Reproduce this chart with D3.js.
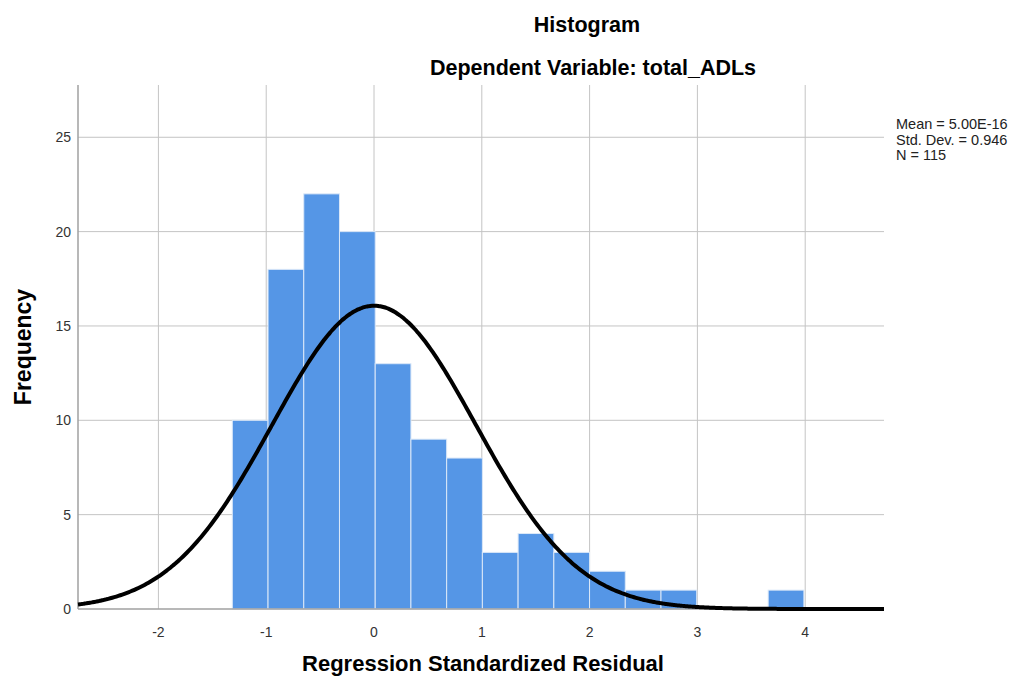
<!DOCTYPE html>
<html>
<head>
<meta charset="utf-8">
<script src="https://cdn.jsdelivr.net/npm/d3@7"></script>
<style>
  body { margin: 0; background: #fff; }
  svg { display: block; font-family: "Liberation Sans", Arial, sans-serif; }
</style>
</head>
<body>
<svg id="chart" width="1014" height="678"></svg>
<script>
// ---- data ----
const binStart = -1.3145;
const binWidth = 0.3314;
const counts = [10, 18, 22, 20, 13, 9, 8, 3, 4, 3, 2, 1, 1, 0, 0, 1];
const xTicks = [-2, -1, 0, 1, 2, 3, 4];
const yTicks = [0, 5, 10, 15, 20, 25];
const statMean = 5.00e-16;
const statSD = 0.946;
const statN = 115;
const legendLines = ["Mean = 5.00E-16", "Std. Dev. = 0.946", "N = 115"];
const titleText = "Histogram";
const subtitleText = "Dependent Variable: total_ADLs";
const xTitle = "Regression Standardized Residual";
const yTitle = "Frequency";

// ---- layout ----
const pLeft = 78, pRight = 884, pTop = 85, pBottom = 609;
const svg = d3.select("#chart");

const x = d3.scaleLinear().domain([-2.746, 4.731]).range([pLeft, pRight]);
const y = d3.scaleLinear().domain([0, 27.77]).range([pBottom, pTop]);

// gridlines
svg.append("g").selectAll("line").data(yTicks.filter(d => d > 0)).join("line")
  .attr("x1", pLeft).attr("x2", pRight)
  .attr("y1", d => y(d)).attr("y2", d => y(d))
  .attr("stroke", "#c4c4c4").attr("stroke-width", 1);
svg.append("g").selectAll("line").data(xTicks).join("line")
  .attr("x1", d => x(d)).attr("x2", d => x(d))
  .attr("y1", pTop).attr("y2", pBottom)
  .attr("stroke", "#c4c4c4").attr("stroke-width", 1);

// bars
const bins = counts.map((c, i) => ({x0: binStart + i * binWidth, x1: binStart + (i + 1) * binWidth, c}));
svg.append("g").selectAll("rect").data(bins.filter(b => b.c > 0)).join("rect")
  .attr("x", d => x(d.x0))
  .attr("y", d => y(d.c))
  .attr("width", d => x(d.x1) - x(d.x0))
  .attr("height", d => y(0) - y(d.c))
  .attr("fill", "#5596e6")
  .attr("stroke", "#dbe8f8").attr("stroke-width", 1);

// axes lines
svg.append("line").attr("x1", pLeft).attr("x2", pLeft).attr("y1", pTop).attr("y2", pBottom)
  .attr("stroke", "#a0a0a0").attr("stroke-width", 1.5);
svg.append("line").attr("x1", pLeft).attr("x2", pRight).attr("y1", pBottom).attr("y2", pBottom)
  .attr("stroke", "#a0a0a0").attr("stroke-width", 1.5);

// normal curve from the fitted statistics
const scaleFactor = statN * binWidth / (statSD * Math.sqrt(2 * Math.PI));
const curvePts = d3.range(0, 401).map(i => {
  const xv = x.domain()[0] + (x.domain()[1] - x.domain()[0]) * i / 400;
  const z = (xv - statMean) / statSD;
  return [xv, scaleFactor * Math.exp(-0.5 * z * z)];
});
svg.append("path").datum(curvePts)
  .attr("d", d3.line().x(d => x(d[0])).y(d => y(d[1])).curve(d3.curveBasis))
  .attr("fill", "none").attr("stroke", "#000").attr("stroke-width", 4);

// tick labels
svg.append("g").selectAll("text").data(yTicks).join("text")
  .attr("x", 71).attr("y", d => y(d)).attr("dy", "0.35em")
  .attr("text-anchor", "end").attr("font-size", 14).attr("fill", "#333")
  .text(d => d);
svg.append("g").selectAll("text").data(xTicks).join("text")
  .attr("x", d => x(d)).attr("y", 632).attr("dy", "0.35em")
  .attr("text-anchor", "middle").attr("font-size", 14).attr("fill", "#333")
  .text(d => d);

// titles
svg.append("text").attr("x", 587).attr("y", 24).attr("dy", "0.35em")
  .attr("text-anchor", "middle").attr("font-size", 21.5).attr("font-weight", "bold")
  .text(titleText);
svg.append("text").attr("x", 593).attr("y", 67).attr("dy", "0.35em")
  .attr("text-anchor", "middle").attr("font-size", 21.5).attr("font-weight", "bold")
  .text(subtitleText);
svg.append("text").attr("x", 483).attr("y", 663).attr("dy", "0.35em")
  .attr("text-anchor", "middle").attr("font-size", 22).attr("font-weight", "bold")
  .text(xTitle);
svg.append("text").attr("transform", "translate(23,347) rotate(-90)").attr("dy", "0.35em")
  .attr("text-anchor", "middle").attr("font-size", 23).attr("font-weight", "bold")
  .text(yTitle);

// stats legend
svg.append("g").selectAll("text").data(legendLines).join("text")
  .attr("x", 896).attr("y", (d, i) => 124 + i * 15.5).attr("dy", "0.35em")
  .attr("font-size", 14.5).attr("fill", "#222")
  .text(d => d);
</script>
</body>
</html>
